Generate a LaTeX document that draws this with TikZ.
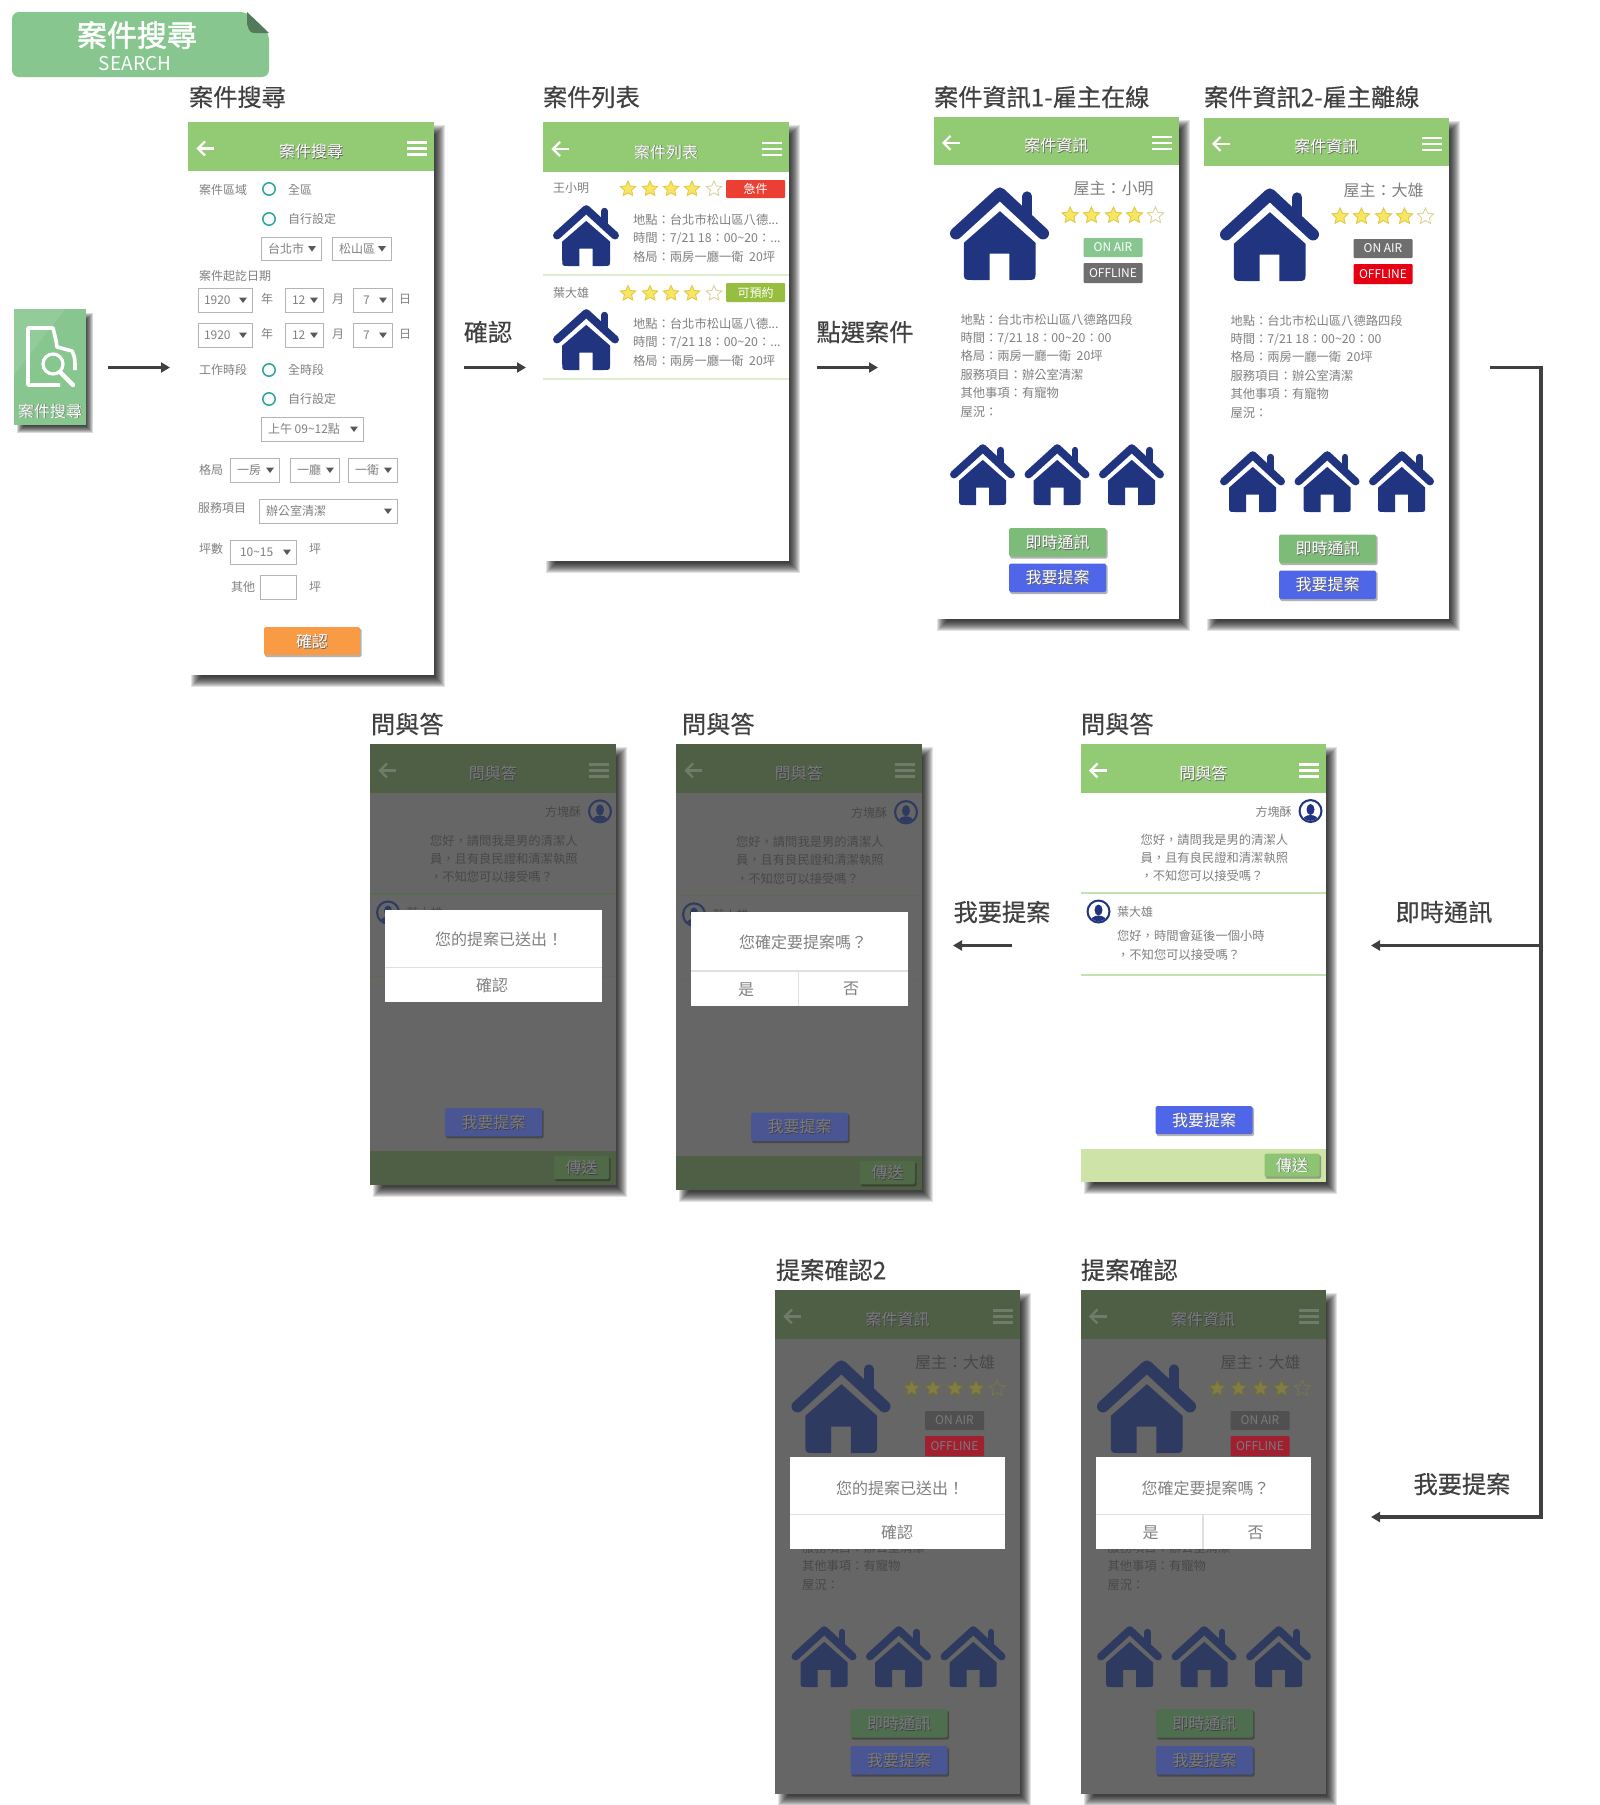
\documentclass[tikz,border=0pt]{standalone}
\usepackage{fontspec}
\setmainfont{Noto Sans CJK TC}
\newfontfamily\ttl[FakeBold=0.35]{Noto Sans CJK TC}
\newfontfamily\bnr[FakeBold=1.6]{Noto Sans CJK TC}
\usetikzlibrary{arrows.meta,shapes.geometric}
\definecolor{mint}{HTML}{87C68F}
\definecolor{ink}{HTML}{404040}
\definecolor{dlgtxt}{HTML}{808080}
\definecolor{teal}{HTML}{2BA79A}
\definecolor{ddb}{HTML}{B4B4B4}
\definecolor{orangeB}{HTML}{F99B45}
\definecolor{badgeR}{HTML}{EC3F33}
\definecolor{badgeG}{HTML}{97BE3E}
\definecolor{navy}{HTML}{203480}
\definecolor{hdr}{HTML}{93CA74}
\definecolor{body}{HTML}{808080}
\definecolor{btnG}{HTML}{7DBB78}
\definecolor{btnB}{HTML}{4F66E8}
\definecolor{sep}{HTML}{C4E2AE}
\definecolor{bar}{HTML}{CDE3A8}
\definecolor{sendG}{HTML}{8CC474}
\definecolor{offG}{HTML}{6E6E6E}
\definecolor{offR}{HTML}{E60012}
\definecolor{onG}{HTML}{87C68F}
\definecolor{starF}{HTML}{F7E660}
\definecolor{starD}{HTML}{E3C84A}
\definecolor{starE}{HTML}{D9D39A}
\definecolor{scrn}{HTML}{FFFFFF}
\definecolor{hdtx}{HTML}{FFFFFF}
\definecolor{btxt}{HTML}{FFFFFF}
\definecolor{bshd}{HTML}{666666}
\newcommand\darkmode{%
\definecolor{navy}{HTML}{2F3A60}\definecolor{hdr}{HTML}{4F5F45}\definecolor{body}{HTML}{484848}%
\definecolor{btnG}{HTML}{4F6E50}\definecolor{btnB}{HTML}{4A5694}\definecolor{sep}{HTML}{5B6A55}%
\definecolor{bar}{HTML}{4F5F45}\definecolor{sendG}{HTML}{506A48}\definecolor{offG}{HTML}{505050}%
\definecolor{offR}{HTML}{A02030}\definecolor{starF}{HTML}{827D42}\definecolor{starD}{HTML}{726D3A}%
\definecolor{starE}{HTML}{77744F}\definecolor{scrn}{HTML}{666666}\definecolor{hdtx}{HTML}{6F7C6A}%
\definecolor{btxt}{HTML}{7A7A80}\definecolor{bshd}{HTML}{404040}}
\newcounter{tn}
\newcommand\Tx[6]{\stepcounter{tn}\node[anchor=#1,inner sep=0pt,outer sep=0pt,text=#3,font=\fontsize{#2}{#2}\selectfont] (t\arabic{tn}) at ({#4},{#5}) {#6};}
\newcommand\sT[4]{\Tx{center}{#1}{bshd}{#2+0.9}{#3+0.9}{#4}\Tx{center}{#1}{btxt}{#2}{#3}{#4}}
\newcommand\house[4]{%
 \begin{scope}[shift={(#1,#2)},xscale=#3,yscale=#4]
 \pgfmathsetmacro\lwa{0.12*#3}\pgfmathsetmacro\lwb{0.1*#3}
 \draw[navy,line width=\lwa pt,line cap=round,line join=round] (0.06,0.5)--(0.504,0.068)--(0.94,0.5);
 \draw[navy,line width=\lwb pt,line cap=round] (0.78,0.1)--(0.78,0.3);
 \fill[navy] (0.504,0.26)--(0.864,0.6)--(0.864,0.91) .. controls (0.864,1) .. (0.77,1)--(0.6,1)--(0.6,0.717)--(0.4,0.717)--(0.4,1)--(0.23,1) .. controls (0.14,1) .. (0.14,0.91)--(0.14,0.6)--cycle;
 \end{scope}}
\newcommand\stars[3]{% y, r, xlist
 \foreach \sx [count=\si] in {#3}{%
  \ifnum\si=5\def\sf{scrn}\def\sd{starE}\else\def\sf{starF}\def\sd{starD}\fi
  \stepcounter{tn}\node[star,star points=5,star point ratio=2.1,minimum size=#2*2pt,inner sep=0pt,fill=\sf,draw=\sd,line width=.9pt] (t\arabic{tn}) at (\sx,#1) {};}}
\newcommand\phone[6]{% x y W H hb title
 \begin{scope}[shift={(#1,#2)}]
 \foreach \k in {0,1,...,10}{\fill[black,opacity=.115] ({3+\k},{3+\k}) rectangle ({#3+11-\k},{#4+12-\k});}
 \fill[scrn] (0,0) rectangle (#3,#4);
 \fill[hdr] (0,0) rectangle (#3,#5);
 \draw[hdtx,line width=2.2pt] (10,{#5*.54})--(26,{#5*.54});
 \draw[hdtx,line width=2.2pt] (17,{#5*.54-7})--(10,{#5*.54})--(17,{#5*.54+7});
 \foreach \k in {-1,0,1}{\draw[hdtx,line width=2.6pt] ({#3-27},{#5*.54+\k*6})--({#3-7},{#5*.54+\k*6});}
 \sT{16}{#3/2}{#5*.6}{#6}
 \end{scope}}
\newcommand\btn[7]{% x0 y0 x1 y1 colour size text
 \fill[black,opacity=.3,rounded corners=1.5pt] ({#1+1},{#2+1.5}) rectangle ({#3+1.5},{#4+2});
 \fill[#5,rounded corners=1.5pt] (#1,#2) rectangle ({#3},{#4});
 \sT{#6}{(#1+#3)/2}{(#2+#4)/2}{#7}}
\newcommand\dd[6]{% x0 y0 x1 y1 text offset
 \draw[ddb,line width=1pt,fill=white] (#1,#2) rectangle (#3,#4);
 \Tx{west}{12}{body}{#1+#6}{(#2+#4)/2}{#5}
 \fill[black!65] ({#3-13},{(#2+#4)/2-2.5})--({#3-5},{(#2+#4)/2-2.5})--({#3-9},{(#2+#4)/2+3})--cycle;}
\newcommand\radio[2]{\draw[teal,line width=1.5pt] (#1,#2) circle (6.2);}
\newcommand\avatar[2]{%
 \begin{scope}[shift={(#1,#2)}]
 \fill[navy] (0,0) circle (12);
 \fill[scrn] (0,0) circle (9.8);
 \begin{scope}\clip (0,0) circle (9.8);
 \fill[navy] (0,10) ellipse (8 and 6);
 \fill[navy] (0,-1.5) ellipse (4 and 5.5);
 \end{scope}
 \end{scope}}
\newcommand\info[9]{% x y W owner on off hy b1 b2
 \begin{scope}[shift={(#1,#2)}]
 \house{16.5}{70}{99}{93}
 \Tx{center}{16}{body}{180}{72}{屋主：#4}
 \stars{98.5}{8.5}{136.6,158,180,201,222}
 \fill[#5,rounded corners=1pt] (150,121) rectangle (209,140);
 \Tx{center}{12}{btxt}{179.5}{130.5}{ON AIR}
 \fill[#6,rounded corners=1pt] (150,146) rectangle (209,166);
 \Tx{center}{12}{btxt}{179.5}{156}{OFFLINE}
 \Tx{west}{12.3}{body}{27}{203}{地點：台北市松山區八德路四段}
 \Tx{west}{12.3}{body}{27}{221}{時間：7/21 18：00\textasciitilde 20：00}
 \Tx{west}{12.3}{body}{27}{239}{格局：兩房一廳一衛\ \ 20坪}
 \Tx{west}{12.3}{body}{27}{257.5}{服務項目：辦公室清潔}
 \Tx{west}{12.3}{body}{27}{275.5}{其他事項：有寵物}
 \Tx{west}{12.3}{body}{27}{294.5}{屋況：}
 \house{16.5}{#7}{65}{61}
 \house{91}{#7}{65}{61}
 \house{165.5}{#7}{65}{61}
 \btn{75.5}{#8}{172.5}{#8+28.5}{btnG}{16}{即時通訊}
 \btn{75.5}{#9}{172.5}{#9+28.5}{btnB}{16}{我要提案}
 \end{scope}}
\newcommand\chat[3]{% x y yscale
 \begin{scope}[shift={(#1,#2)},yscale=#3]
 \Tx{center}{12}{body}{193}{68}{方塊酥}
 \avatar{230}{67}
 \Tx{west}{12.3}{body}{60}{96}{您好，請問我是男的清潔人}
 \Tx{west}{12.3}{body}{60}{114}{員，且有良民證和清潔執照}
 \Tx{west}{12.3}{body}{60}{132}{，不知您可以接受嗎？}
 \draw[sep,line width=1.2pt] (0,149)--(245.5,149);
 \avatar{18}{167.5}
 \Tx{west}{12}{body}{36.6}{168}{葉大雄}
 \Tx{west}{12.3}{body}{36.6}{192}{您好，時間會延後一個小時}
 \Tx{west}{12.3}{body}{36.6}{211}{，不知您可以接受嗎？}
 \draw[sep,line width=1.2pt] (0,231)--(245.5,231);
 \btn{75}{362}{172}{390}{btnB}{16}{我要提案}
 \fill[bar] (0,405) rectangle (245.5,438);
 \btn{184}{409.5}{239}{432.5}{sendG}{16}{傳送}
 \end{scope}}
\def\dlgR{232}
\def\dlgT{1}
\newcommand\dialog[9]{% x y W y0 ydiv y1 msg textx mode
 \begin{scope}[shift={(#1,#2)}]
 \fill[white] (15,#4) rectangle (\dlgR,#6);
 \draw[black!12,line width=1.2pt] (15,#5)--(\dlgR,#5);
 \Tx{center}{16}{dlgtxt}{#8}{(#4+#5)/2+\dlgT}{#7}
 \ifnum#9=1
 \Tx{center}{16}{dlgtxt}{122}{(#5+#6)/2+1}{確認}
 \else
 \draw[black!12,line width=1.2pt] (122.5,#5)--(122.5,#6);
 \Tx{center}{16}{dlgtxt}{70}{(#5+#6)/2+1}{是}
 \Tx{center}{16}{dlgtxt}{175}{(#5+#6)/2+1}{否}
 \fi
 \end{scope}}
\begin{document}
\begin{tikzpicture}[x=1pt,y=-1pt,
 arw/.style={draw=ink,line width=3.6pt,-{Triangle[length=9pt,width=10pt]}}]
\useasboundingbox (0,0) rectangle (1600,1805);
\fill[white] (0,0) rectangle (1600,1805);
% banner
\fill[mint,rounded corners=7pt] (12,12) -- (247,12) -- (269,33) -- (269,77) -- (12,77) -- cycle;
\fill[mint!62!black] (247,12) -- (269,33) -- (258,33) .. controls (250,33) .. (247,24) -- cycle;
\Tx{center}{30}{white}{137}{35}{\bnr 案件搜尋}
\Tx{center}{19}{white}{135}{64}{SEARCH}
% icon
\foreach \k in {0,1,...,7}{\fill[black,opacity=.15] ({17+\k},{313+\k}) rectangle ({93-\k},{433-\k});}
\fill[mint] (14,309) rectangle (86,425);
\fill[white,opacity=.1] (14,309) -- (65,309) -- (14,375) -- cycle;
\draw[white,line width=3.6pt,line join=round] (60,385) -- (28,385) -- (28,328) -- (53,328) .. controls (56,340) .. (57,347) -- (72,351) .. controls (75,358) .. (75,370);
\draw[white,line width=3.2pt] (53,364) circle (10);
\draw[white,line width=4.4pt,line cap=round] (60,372) -- (73,385);
\sT{16}{50}{411}{案件搜尋}
% titles
\Tx{west}{24.2}{ink}{189}{97}{\ttl 案件搜尋}
\Tx{west}{24.2}{ink}{543}{97}{\ttl 案件列表}
\Tx{west}{24.2}{ink}{934}{97}{\ttl 案件資訊1-雇主在線}
\Tx{west}{24.2}{ink}{1204}{97}{\ttl 案件資訊2-雇主離線}
\Tx{west}{24.2}{ink}{371}{724}{\ttl 問與答}
\Tx{west}{24.2}{ink}{682}{724}{\ttl 問與答}
\Tx{west}{24.2}{ink}{1081}{724}{\ttl 問與答}
\Tx{west}{24.2}{ink}{776}{1270}{\ttl 提案確認2}
\Tx{west}{24.2}{ink}{1081}{1270}{\ttl 提案確認}
% flow labels
\Tx{center}{24.2}{ink}{488}{332}{\ttl 確認}
\Tx{center}{24.2}{ink}{865}{332}{\ttl 點選案件}
\Tx{center}{24.2}{ink}{1002}{912}{\ttl 我要提案}
\Tx{center}{24.2}{ink}{1444}{912}{\ttl 即時通訊}
\Tx{center}{24.2}{ink}{1462}{1484}{\ttl 我要提案}
% search screen
\phone{188}{122}{246}{553}{49}{案件搜尋}
\Tx{west}{12}{body}{199}{189.5}{案件區域}
\radio{269}{189}\Tx{west}{12}{body}{288}{189.5}{全區}
\radio{269}{219}\Tx{west}{12}{body}{288}{219}{自行設定}
\dd{261}{237}{321}{260}{台北市}{7}
\dd{332}{237}{391}{260}{松山區}{7}
\Tx{west}{12}{body}{199}{276}{案件起訖日期}
\dd{198}{288}{252}{312}{1920}{6}\Tx{center}{12}{body}{267}{299}{年}
\dd{285}{288}{323}{312}{12}{7}\Tx{center}{12}{body}{338}{299}{月}
\dd{353}{288}{392}{312}{7}{10}\Tx{center}{12}{body}{405}{299}{日}
\dd{198}{323}{252}{347}{1920}{6}\Tx{center}{12}{body}{267}{334}{年}
\dd{285}{323}{323}{347}{12}{7}\Tx{center}{12}{body}{338}{334}{月}
\dd{353}{323}{392}{347}{7}{10}\Tx{center}{12}{body}{405}{334}{日}
\Tx{west}{12}{body}{199}{370}{工作時段}
\radio{269}{370}\Tx{west}{12}{body}{288}{370}{全時段}
\radio{269}{399}\Tx{west}{12}{body}{288}{399}{自行設定}
\dd{261}{417}{363}{441}{上午 09\textasciitilde 12點}{7}
\Tx{west}{12}{body}{199}{470}{格局}
\dd{230}{458}{279}{482}{一房}{7}
\dd{290}{458}{339}{482}{一廳}{7}
\dd{348}{458}{397}{482}{一衛}{7}
\Tx{west}{12}{body}{198}{508}{服務項目}
\dd{259}{499}{397}{523}{辦公室清潔}{7}
\Tx{west}{12}{body}{199}{549}{坪數}
\dd{230}{540}{296}{564}{10\textasciitilde 15}{10}
\Tx{center}{12}{body}{315}{549}{坪}
\Tx{center}{12}{body}{243}{587}{其他}
\draw[ddb,line width=1pt] (260,575) rectangle (296,599);
\Tx{center}{12}{body}{315}{587}{坪}
\btn{264}{627}{360}{655}{orangeB}{16}{確認}
% list screen
\phone{543}{122}{246}{439}{50}{案件列表}
\Tx{west}{12}{body}{553}{188.5}{王小明}
\stars{189}{8}{628,650,671,692,714}
\fill[badgeR,rounded corners=1pt] (726,180) rectangle (785,198);
\Tx{center}{12}{white}{755.5}{189}{急件}
\house{553}{205}{66}{61}
\Tx{west}{12.3}{body}{633}{219.5}{地點：台北市松山區八德...}
\Tx{west}{12.3}{body}{633}{238.5}{時間：7/21 18：00\textasciitilde 20：...}
\Tx{west}{12.3}{body}{633}{256.5}{格局：兩房一廳一衛\ \ 20坪}
\draw[sep!60!white,line width=2pt] (543,275)--(789,275);
\Tx{west}{12}{body}{553}{292.5}{葉大雄}
\stars{293.5}{8}{628,650,671,692,714}
\fill[badgeG,rounded corners=1pt] (726,283) rectangle (785,302);
\Tx{center}{12}{white}{755.5}{292.5}{可預約}
\house{553}{309}{66}{61}
\Tx{west}{12.3}{body}{633}{323.5}{地點：台北市松山區八德...}
\Tx{west}{12.3}{body}{633}{342.5}{時間：7/21 18：00\textasciitilde 20：...}
\Tx{west}{12.3}{body}{633}{360.5}{格局：兩房一廳一衛\ \ 20坪}
\draw[sep!60!white,line width=1.2pt] (543,379)--(789,379);
% info screens
\phone{933.5}{117}{245.5}{501.5}{48}{案件資訊}
\info{933.5}{117}{247}{小明}{onG}{offG}{327}{411}{446.5}
\phone{1203.5}{118}{245.5}{500.5}{48}{案件資訊}
\info{1203.5}{118}{247}{大雄}{offG}{offR}{333}{416.5}{452.5}
% chat screens
\phone{1080.5}{744}{245.5}{438}{49}{問與答}
\chat{1080.5}{744}{1}
\begin{scope}\darkmode
\phone{676}{744}{245.5}{446}{49}{問與答}
\chat{676}{744}{1.018}
\dialog{676}{744}{247}{168}{227}{261.5}{您確定要提案嗎？}{127}{2}
\phone{370}{744}{245.5}{441}{49}{問與答}
\chat{370}{744}{1.006}
\dialog{370}{744}{247}{166}{223.5}{258}{您的提案已送出！}{129}{1}
% confirm screens
\def\dlgR{230}\def\dlgT{3}
\phone{1080.5}{1290}{245}{503.5}{49}{案件資訊}
\info{1080.5}{1290}{247}{大雄}{offG}{offR}{336}{419}{456}
\dialog{1080.5}{1290}{247}{167}{224.5}{259}{您確定要提案嗎？}{125}{2}
\phone{775}{1290}{245}{503.5}{49}{案件資訊}
\info{775}{1290}{247}{大雄}{offG}{offR}{336}{419}{456}
\dialog{775}{1290}{247}{167}{224.5}{259}{您的提案已送出！}{125}{1}
\end{scope}
% connectors
\coordinate (a1) at (108,367.5);\coordinate (a2) at (170,367.5);
\coordinate (b1) at (464,367.5);\coordinate (b2) at (526,367.5);
\coordinate (c1) at (816.5,367.5);\coordinate (c2) at (878,367.5);
\coordinate (e1) at (1490,367.5);\coordinate (e2) at (1541,367.5);\coordinate (e3) at (1541,1517);\coordinate (e4) at (1371,1517);
\coordinate (f1) at (1541,945.5);\coordinate (f2) at (1371,945.5);
\coordinate (g1) at (1012,945.5);\coordinate (g2) at (953,945.5);
\draw[arw] (a1)--(a2);
\draw[arw] (b1)--(b2);
\draw[arw] (c1)--(c2);
\draw[arw] (e1)--(e2)--(e3)--(e4);
\draw[arw] (f1)--(f2);
\draw[arw] (g1)--(g2);
\end{tikzpicture}
\end{document}
